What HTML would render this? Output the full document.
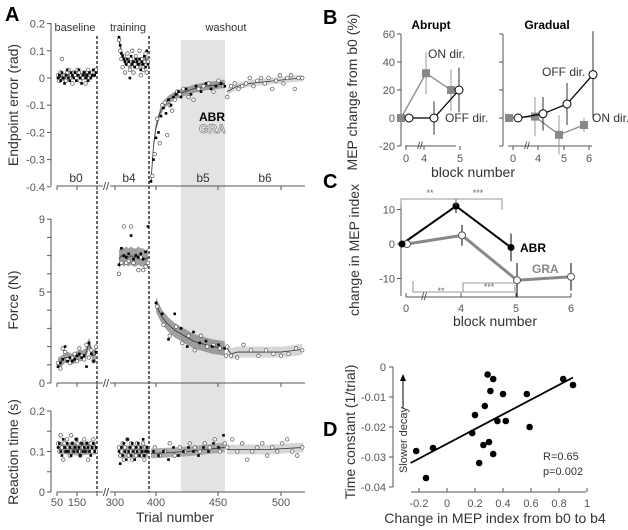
<!DOCTYPE html>
<html><head><meta charset="utf-8"><style>
html,body{margin:0;padding:0;background:#fff;}
svg{display:block;font-family:"Liberation Sans",sans-serif;}
.tk{font-size:11px;fill:#555;}
.lab{font-size:14px;fill:#333;}
</style></head><body>
<svg id="fig" width="628" height="530" viewBox="0 0 628 530">
<g id="gA"></g>
<g id="gB"></g>
<g id="gC"></g>
<g id="gD"></g>
</svg>
<script>
// ===== Panel A data =====
const baseErrABR=[0.0,0.01,-0.01,0.02,0.0,-0.02,0.01,0.03,0.0,-0.01,0.02,0.01,0.0,0.02,-0.01,0.01,0.03,0.0,-0.02,0.01,0.02,0.0,0.01,-0.01,0.02,0.0,0.01,0.03,0.01,0.02];
const baseErrGRA=[0.01,-0.01,0.02,0.07,0.0,0.01,-0.01,0.02,0.03,0.0,0.01,-0.02,0.02,0.01,0.0,0.03,0.02,-0.01,0.01,0.0,0.02,-0.02,0.01,0.03,0.0,0.01,0.02,0.01,0.02,0.03];
const trainErrABR=[0.15,0.12,0.09,0.08,0.07,0.06,0.05,0.07,0.06,0.0,0.08,0.05,0.06,0.04,0.07,0.06,0.05,0.07,0.03,0.06,0.05,0.08,0.04,0.1,0.05];
const trainErrGRA=[0.14,0.1,0.07,0.04,0.08,0.02,0.06,0.09,0.05,0.03,0.07,0.1,0.02,0.05,0.08,0.04,0.06,0.1,0.01,0.07,0.03,0.06,0.09,0.02,0.06];
const washTrialsABR=[396,398,400,402,404,406,408,410,412,414,416,418,420,424,428,432,436,440,444,448,452,455];
const washErrABR=[-0.38,-0.3,-0.22,-0.2,-0.14,-0.11,-0.13,-0.08,-0.1,-0.07,-0.06,-0.05,-0.07,-0.04,-0.06,-0.03,-0.05,-0.02,-0.04,-0.03,-0.02,-0.03];
const washTrialsGRA=[397,399,401,403,405,407,409,411,413,415,417,419,422,426,430,434,438,442,446,450,454,457,460,463,466,469,472,475,478,481,484,487,490,493,496,499,502,505,508,511,514,517];
const washErrGRA=[-0.36,-0.28,-0.15,-0.24,-0.1,-0.09,-0.21,-0.1,-0.12,-0.08,-0.05,-0.06,-0.04,-0.07,-0.08,-0.04,-0.03,-0.02,-0.05,-0.01,-0.03,-0.07,-0.03,-0.02,-0.04,-0.03,-0.02,0.0,-0.03,-0.01,0.0,-0.02,0.0,-0.04,-0.01,0.01,-0.02,0.0,0.01,-0.04,0.0,0.0];
const errMeanTrials=[396,398,400,403,406,410,415,420,430,440,450,455];
const errMean=[-0.38,-0.25,-0.18,-0.13,-0.1,-0.08,-0.065,-0.055,-0.04,-0.03,-0.025,-0.02];
const errMeanB6Trials=[457,465,475,485,495,505,518];
const errMeanB6=[-0.05,-0.03,-0.02,-0.015,-0.01,-0.005,0.0];

const baseForceABR=[0.9,1.1,1.3,2.0,1.2,1.4,1.2,1.3,1.5,1.6,1.4,1.5,0.9,2.2,1.6,1.2,1.7];
const baseForceGRA=[1.1,0.8,1.9,1.7,1.3,1.1,1.4,1.6,1.2,1.9,1.5,1.3,2.1,1.4,1.8,1.2,2.0];
const baseForceMean=[1.1,1.2,1.4,1.4,1.3,1.4,1.5,1.5,1.6,2.2,1.5,1.6];
const trainForceABR=[6.5,7.4,7.0,6.9,7.1,8.1,6.8,7.0,6.9,7.1,6.8,7.2,8.6];
const trainForceGRA=[6.0,6.6,8.6,6.6,6.7,8.6,6.6,7.0,6.2,6.9,6.2,6.4,6.6];
const trainForceMean=[6.8,7.0,6.9,7.0,6.9,7.0,6.9,6.9,7.0,6.9,6.9,6.8,6.9];
const washForceTrials=[400,405,410,415,420,425,430,435,440,445,450,455];
const washForceABR=[4.4,3.8,2.4,3.8,3.0,2.0,2.8,2.2,2.3,2.0,2.1,1.9];
const washForceGRA=[4.2,3.2,2.6,3.1,2.2,2.6,1.8,2.6,2.0,2.1,1.9,1.5];
const washForceMean=[4.3,3.6,3.2,2.9,2.7,2.5,2.3,2.2,2.1,2.0,1.95,1.9];
const b6ForceTrials=[457,460,465,470,476,482,488,494,500,506,512,517];
const b6ForceGRA=[2.0,1.5,1.4,2.1,1.8,1.5,1.8,1.6,1.5,1.6,1.9,1.8];
const b6ForceMean=[1.9,1.6,1.7,1.7,1.7,1.7,1.7,1.7,1.7,1.75,1.8,1.85];

const baseRTABR=[0.11,0.12,0.1,0.09,0.13,0.11,0.1,0.12,0.1,0.11,0.09,0.12,0.1,0.11,0.13,0.1,0.11,0.09,0.12,0.1,0.11,0.1,0.12,0.11,0.1,0.09,0.11,0.12,0.1,0.11];
const baseRTGRA=[0.12,0.1,0.14,0.11,0.08,0.12,0.1,0.13,0.11,0.09,0.14,0.12,0.1,0.11,0.13,0.12,0.1,0.09,0.12,0.11,0.13,0.1,0.12,0.08,0.11,0.12,0.1,0.13,0.11,0.1];
const trainRTABR=[0.1,0.07,0.11,0.09,0.12,0.1,0.08,0.13,0.1,0.11,0.09,0.12,0.1,0.08,0.11,0.1,0.12,0.09,0.11,0.1,0.13,0.09,0.1,0.11,0.1];
const trainRTGRA=[0.11,0.09,0.1,0.12,0.08,0.11,0.1,0.13,0.09,0.1,0.12,0.08,0.11,0.1,0.09,0.12,0.1,0.11,0.09,0.1,0.12,0.08,0.11,0.1,0.1];
const washRTTrials=[398,402,406,410,414,418,422,426,430,434,438,442,446,450,454];
const washRTABR=[0.1,0.09,0.1,0.08,0.11,0.09,0.1,0.11,0.1,0.09,0.11,0.1,0.12,0.11,0.14];
const washRTGRA=[0.11,0.09,0.1,0.12,0.09,0.11,0.1,0.12,0.11,0.1,0.12,0.11,0.13,0.1,0.12];
const b6RTTrials=[457,461,465,469,473,477,481,485,489,493,497,501,505,509,513,517];
const b6RTGRA=[0.11,0.13,0.1,0.12,0.08,0.1,0.11,0.12,0.09,0.11,0.1,0.12,0.13,0.1,0.09,0.11];

// ===== Panel B data =====
const bBlocks=["0","4","5","6"];
const abrON=[0,32,20];const abrONerr=[0,15,15];
const abrOFF=[0,0,20];const abrOFFerr=[0,12,16];
const graON=[0,1,-12,-5];const graONerr=[0,14,14,5];
const graOFF=[0,3,10,31];const graOFFerr=[0,12,15,31];
const bTicks=[-20,0,20,40,60];
// ===== Panel C data =====
const cABR=[0,11,-1];const cABRerr=[0,2,4];
const cGRA=[0,2.5,-10.5,-9.5];const cGRAerr=[0,3,5,4];
const cTicks=[-10,0,10];
// ===== Panel D data =====
const dX=[-0.22,-0.15,-0.1,0.18,0.2,0.23,0.26,0.27,0.29,0.3,0.31,0.33,0.33,0.36,0.4,0.42,0.57,0.59,0.83,0.9];
const dY=[-0.028,-0.037,-0.027,-0.022,-0.016,-0.032,-0.026,-0.013,-0.0025,-0.025,-0.008,-0.004,-0.029,-0.018,-0.009,-0.018,-0.009,-0.02,-0.004,-0.006];
const dXTicks=[-0.2,0,0.2,0.4,0.6,0.8,1];
const dYTicks=[0,-0.01,-0.02,-0.03,-0.04];
const dFit=[[-0.26,-0.032],[0.9,-0.0035]];

const NS="http://www.w3.org/2000/svg";
function mk(parent,tag,attrs,text){const e=document.createElementNS(NS,tag);for(const k in attrs)e.setAttribute(k,attrs[k]);if(text!==undefined)e.textContent=text;parent.appendChild(e);return e;}
const gA=document.getElementById('gA'),gB=document.getElementById('gB'),gC=document.getElementById('gC'),gD=document.getElementById('gD');

function xBase(i,n){return 58+i*(38/(n-1));}
function xTrain(i,n){return 119+i*(29/(n-1));}
function xW(t){return 156+(t-400)*1.25;}
const yE=v=>78-v*272;
const yF=v=>383-v*18.2;
const yR=v=>492-v*405;

let e;
e=mk(gA,'rect',{x:181,y:40,width:44,height:452,fill:'#e3e3e3'});

[97,149].forEach(x=>{e=mk(gA,'line',{x1:x,y1:36,x2:x,y2:492,stroke:'#000','stroke-width':1.2,'stroke-dasharray':'3,2'});
});

function band(g,xs,ys,sd,yf,fill,name){let top=xs.map((x,i)=>x+','+yf(ys[i]+sd)).join(' ');let bot=xs.map((x,i)=>x+','+yf(ys[i]-sd)).reverse().join(' ');
 const p=mk(g,'polygon',{points:top+' '+bot,fill:fill,opacity:0.8});
 const l=mk(g,'polyline',{points:xs.map((x,i)=>x+','+yf(ys[i])).join(' '),fill:'none',stroke:'#333','stroke-width':0.8});}
function sq(g,x,y,name){const r=mk(g,'rect',{x:x-1.3,y:y-1.3,width:2.6,height:2.6,fill:'#000'});}
function oc(g,x,y,name){const c=mk(g,'circle',{cx:x,cy:y,r:1.8,fill:'#fff',stroke:'#555','stroke-width':0.7});}

band(gA,baseErrABR.map((v,i)=>xBase(i,baseErrABR.length)),baseErrABR.map((v,i,a)=>(a[i]+(a[i+1]??v)+(a[i-1]??v))/3),0.012,yE,'#999','baseline-error');
baseErrGRA.forEach((v,i,a)=>oc(gA,xBase(i,a.length),yE(v),'baseline-error-gra-point'));
baseErrABR.forEach((v,i,a)=>sq(gA,xBase(i,a.length),yE(v),'baseline-error-abr-point'));
band(gA,trainErrABR.map((v,i,a)=>xTrain(i,a.length)),trainErrABR.map((v,i,a)=>(a[i]+(a[i+1]??v)+(a[i-1]??v))/3),0.015,yE,'#999','training-error');
trainErrGRA.forEach((v,i,a)=>oc(gA,xTrain(i,a.length),yE(v),'training-error-gra-point'));
trainErrABR.forEach((v,i,a)=>sq(gA,xTrain(i,a.length),yE(v),'training-error-abr-point'));
band(gA,errMeanTrials.map(xW),errMean,0.015,yE,'#888','washout-error');
band(gA,errMeanB6Trials.map(xW),errMeanB6,0.012,yE,'#ccc','b6-error');
washErrGRA.forEach((v,i)=>oc(gA,xW(washTrialsGRA[i]),yE(v),'washout-error-gra-point'));
washErrABR.forEach((v,i)=>sq(gA,xW(washTrialsABR[i]),yE(v),'washout-error-abr-point'));

band(gA,baseForceMean.map((v,i,a)=>xBase(i,a.length)),baseForceMean,0.3,yF,'#888','baseline-force');
baseForceGRA.forEach((v,i,a)=>oc(gA,xBase(i,a.length),yF(v),'baseline-force-gra-point'));
baseForceABR.forEach((v,i,a)=>sq(gA,xBase(i,a.length),yF(v),'baseline-force-abr-point'));
band(gA,trainForceMean.map((v,i,a)=>xTrain(i,a.length)),trainForceMean,0.5,yF,'#888','training-force');
trainForceGRA.forEach((v,i,a)=>oc(gA,xTrain(i,a.length),yF(v),'training-force-gra-point'));
trainForceABR.forEach((v,i,a)=>sq(gA,xTrain(i,a.length),yF(v),'training-force-abr-point'));
band(gA,washForceTrials.map(xW),washForceMean,0.4,yF,'#888','washout-force');
band(gA,b6ForceTrials.map(xW),b6ForceMean,0.3,yF,'#ccc','b6-force');
washForceGRA.forEach((v,i)=>oc(gA,xW(washForceTrials[i]+1),yF(v),'washout-force-gra-point'));
washForceABR.forEach((v,i)=>sq(gA,xW(washForceTrials[i]),yF(v),'washout-force-abr-point'));
b6ForceGRA.forEach((v,i)=>oc(gA,xW(b6ForceTrials[i]),yF(v),'b6-force-gra-point'));

band(gA,[58,77,96],[0.11,0.105,0.108],0.015,yR,'#999','baseline-rt');
baseRTGRA.forEach((v,i,a)=>oc(gA,xBase(i,a.length),yR(v),'baseline-rt-gra-point'));
baseRTABR.forEach((v,i,a)=>sq(gA,xBase(i,a.length),yR(v),'baseline-rt-abr-point'));
band(gA,[119,134,148],[0.1,0.1,0.1],0.015,yR,'#999','training-rt');
trainRTGRA.forEach((v,i,a)=>oc(gA,xTrain(i,a.length),yR(v),'training-rt-gra-point'));
trainRTABR.forEach((v,i,a)=>sq(gA,xTrain(i,a.length),yR(v),'training-rt-abr-point'));
band(gA,[xW(396),xW(425),xW(455)],[0.095,0.1,0.11],0.012,yR,'#999','washout-rt');
band(gA,[xW(457),xW(490),xW(518)],[0.105,0.105,0.11],0.012,yR,'#ccc','b6-rt');
washRTGRA.forEach((v,i)=>oc(gA,xW(washRTTrials[i]+1),yR(v),'washout-rt-gra-point'));
washRTABR.forEach((v,i)=>sq(gA,xW(washRTTrials[i]),yR(v),'washout-rt-abr-point'));
b6RTGRA.forEach((v,i)=>oc(gA,xW(b6RTTrials[i]),yR(v),'b6-rt-gra-point'));

function yAxisA(y0,y1,ticks,labels,yf,name){
 const g=mk(gA,'g',{});
 mk(g,'line',{x1:51,y1:y0,x2:51,y2:y1,stroke:'#555'});
 ticks.forEach(t=>mk(g,'line',{x1:47,y1:yf(t),x2:51,y2:yf(t),stroke:'#555'}));
 labels.forEach(t=>mk(g,'text',{x:45,y:yf(t)+4,'text-anchor':'end',class:'tk'},String(t)));
}
yAxisA(23,186,[0.2,0.1,0,-0.1,-0.2,-0.3,-0.4],[0.2,0.1,0,-0.1,-0.2,-0.3,-0.4],yE,'error-y-axis');
yAxisA(219,383,[0,1,2,3,4,5,6,7,8,9],[0,5,9],yF,'force-y-axis');
yAxisA(411,492,[0,0.05,0.1,0.15,0.2],[0,0.1,0.2],yR,'rt-y-axis');
function xAxisA(y,name){const g=mk(gA,'g',{});
 mk(g,'line',{x1:57,y1:y,x2:103,y2:y,stroke:'#555'});mk(g,'line',{x1:110,y1:y,x2:305,y2:y,stroke:'#555'});
 [57,77,97,115,156,218,281].forEach(x=>mk(g,'line',{x1:x,y1:y,x2:x,y2:y+4,stroke:'#555'}));
 mk(g,'text',{x:106,y:y+4,'text-anchor':'middle','font-size':11,fill:'#333'},'//');}
xAxisA(186,'error-x-axis');xAxisA(383,'force-x-axis');xAxisA(492,'trial-x-axis');
[['50',57],['150',77],['300',115],['400',156],['450',218],['500',281]].forEach(([t,x])=>{e=mk(gA,'text',{x:x,y:506,'text-anchor':'middle',class:'tk'},t);});
</script>
<script>
(function(){
const gA=document.getElementById('gA');
const T=(x,y,t,attrs,name)=>{const e=document.createElementNS("http://www.w3.org/2000/svg",'text');e.setAttribute('x',x);e.setAttribute('y',y);for(const k in attrs)e.setAttribute(k,attrs[k]);e.textContent=t;


gA.appendChild(e);};
T(5,21,'A',{'font-size':20,'font-weight':'bold'},'panel-a-label');
T(75,31,'baseline',{'font-size':11,fill:'#333','text-anchor':'middle'},'baseline-label');
T(128,31,'training',{'font-size':11,fill:'#333','text-anchor':'middle'},'training-label');
T(226,31,'washout',{'font-size':11,fill:'#333','text-anchor':'middle'},'washout-label');
T(76,182,'b0',{'font-size':12,fill:'#333','text-anchor':'middle'},'b0-label');
T(129,182,'b4',{'font-size':12,fill:'#333','text-anchor':'middle'},'b4-label');
T(203,182,'b5',{'font-size':12,fill:'#333','text-anchor':'middle'},'b5-label');
T(265,182,'b6',{'font-size':12,fill:'#333','text-anchor':'middle'},'b6-label');
T(199,121,'ABR',{'font-size':12,'font-weight':'bold'},'abr-legend');
T(199,133,'GRA',{'font-size':12,'font-weight':'bold',fill:'#fff',stroke:'#888','stroke-width':0.8},'gra-legend');
T(0,0,'Endpoint error (rad)',{class:'lab','text-anchor':'middle',transform:'translate(18,105) rotate(-90)'},'error-y-title');
T(0,0,'Force (N)',{class:'lab','text-anchor':'middle',transform:'translate(18,300) rotate(-90)'},'force-y-title');
T(0,0,'Reaction time (s)',{class:'lab','text-anchor':'middle',transform:'translate(18,452) rotate(-90)'},'rt-y-title');
T(175,522,'Trial number',{class:'lab','text-anchor':'middle'},'trial-x-title');
})();
</script>
<script>
(function(){
const NS="http://www.w3.org/2000/svg";
function mk(p,tag,a,t){const e=document.createElementNS(NS,tag);for(const k in a)e.setAttribute(k,a[k]);if(t!==undefined)e.textContent=t;p.appendChild(e);return e;}
const gB=document.getElementById('gB'),gC=document.getElementById('gC'),gD=document.getElementById('gD');
const yB=v=>118-v*1.4;
function tx(g,x,y,t,a,name){const e=mk(g,'text',Object.assign({x:x,y:y},a),t);return e;}
[[401,[406,424,460],['0','4','5'],405,456],[503,[513,538,564,589],['0','4','5','6'],508,592]].forEach(([ax,tks,lbs,x0,x1],k)=>{
 const g=mk(gB,'g',{});
 mk(g,'line',{x1:ax,y1:34,x2:ax,y2:146,stroke:'#555'});
 bTicks.forEach(t=>{mk(g,'line',{x1:ax-4,y1:yB(t),x2:ax,y2:yB(t),stroke:'#555'});if(!k)mk(g,'text',{x:ax-6,y:yB(t)+4,'text-anchor':'end',class:'tk'},t);});
 mk(g,'line',{x1:x0,y1:146,x2:x1,y2:146,stroke:'#555'});
 tks.forEach((x,i)=>{mk(g,'line',{x1:x,y1:146,x2:x,y2:150,stroke:'#555'});mk(g,'text',{x:x,y:162,'text-anchor':'middle',class:'tk'},lbs[i]);});
 mk(g,'text',{x:tks[0]+14,y:149,'font-size':10,fill:'#333','text-anchor':'middle'},'//');
});
const abrSqX=[401,426,451],abrCiX=[409,434,459],graSqX=[509,535,559,584],graCiX=[518,543,567,593];
function series(g,xs,vals,errs,isSq,col,name){
 mk(g,'polyline',{points:xs.map((x,i)=>x+','+yB(vals[i])).join(' '),fill:'none',stroke:col,'stroke-width':1.3});
 vals.forEach((v,i)=>{if(errs[i])mk(g,'line',{x1:xs[i],y1:yB(v+errs[i]),x2:xs[i],y2:yB(v-errs[i]),stroke:isSq?'#999':'#333','stroke-width':1});
  let m=isSq?mk(g,'rect',{x:xs[i]-4,y:yB(v)-4,width:8,height:8,fill:'#888'}):mk(g,'circle',{cx:xs[i],cy:yB(v),r:4,fill:'#fff',stroke:'#000'});
  });
}
series(gB,abrSqX,abrON,abrONerr,true,'#888','abrupt-on');
series(gB,abrCiX,abrOFF,abrOFFerr,false,'#000','abrupt-off');
series(gB,graSqX,graON,graONerr,true,'#888','gradual-on');
series(gB,graCiX,graOFF,graOFFerr,false,'#000','gradual-off');
tx(gB,323,24,'B',{'font-size':20,'font-weight':'bold'},'panel-b-label');
tx(gB,431,29,'Abrupt',{'font-size':12,'font-weight':'bold','text-anchor':'middle'},'abrupt-title');
tx(gB,547,29,'Gradual',{'font-size':12,'font-weight':'bold','text-anchor':'middle'},'gradual-title');
tx(gB,428,58,'ON dir.',{'font-size':12,fill:'#333'},'abrupt-on-label');
tx(gB,445,122,'OFF dir.',{'font-size':12,fill:'#333'},'abrupt-off-label');
tx(gB,542,76,'OFF dir.',{'font-size':12,fill:'#333'},'gradual-off-label');
tx(gB,592,122,'ON dir.',{'font-size':12,fill:'#333'},'gradual-on-label');
tx(gB,0,0,'MEP change from b0 (%)',{class:'lab','text-anchor':'middle',transform:'translate(357,92) rotate(-90)'},'b-y-title');
tx(gB,473,177,'block number',{class:'lab','text-anchor':'middle'},'b-x-title');

const yC=v=>244-v*3.45;
const cXabr=[402,456,511],cXgra=[407,462,517,571];
const ga=mk(gC,'g',{});
mk(ga,'line',{x1:401,y1:205,x2:401,y2:296,stroke:'#555'});
cTicks.forEach(t=>{mk(ga,'line',{x1:397,y1:yC(t),x2:401,y2:yC(t),stroke:'#555'});mk(ga,'text',{x:395,y:yC(t)+4,'text-anchor':'end',class:'tk'},t);});
mk(ga,'line',{x1:406,y1:297,x2:571,y2:297,stroke:'#555'});
[[406,'0'],[461,'4'],[516,'5'],[571,'6']].forEach(([x,l])=>{mk(ga,'line',{x1:x,y1:293,x2:x,y2:297,stroke:'#555'});mk(ga,'text',{x:x,y:312,'text-anchor':'middle',class:'tk'},l);});
mk(ga,'text',{x:424,y:300,'font-size':10,fill:'#333','text-anchor':'middle'},'//');
mk(gC,'polyline',{points:cXgra.map((x,i)=>x+','+yC(cGRA[i])).join(' '),fill:'none',stroke:'#888','stroke-width':3});
mk(gC,'polyline',{points:cXabr.map((x,i)=>x+','+yC(cABR[i])).join(' '),fill:'none',stroke:'#000','stroke-width':2});
cGRA.forEach((v,i)=>{if(cGRAerr[i])mk(gC,'line',{x1:cXgra[i],y1:yC(v+cGRAerr[i]),x2:cXgra[i],y2:yC(v-cGRAerr[i]),stroke:'#000'});
 const c=mk(gC,'circle',{cx:cXgra[i],cy:yC(v),r:3.5,fill:'#fff',stroke:'#555'});});
cABR.forEach((v,i)=>{if(cABRerr[i])mk(gC,'line',{x1:cXabr[i],y1:yC(v+cABRerr[i]),x2:cXabr[i],y2:yC(v-cABRerr[i]),stroke:'#000'});
 const c=mk(gC,'circle',{cx:cXabr[i],cy:yC(v),r:3.5,fill:'#000'});});
mk(gC,'polyline',{points:'401,210 401,199 502,199 502,210',fill:'none',stroke:'#777','stroke-width':0.8});
mk(gC,'line',{x1:456,y1:199,x2:456,y2:205,stroke:'#777','stroke-width':0.8});
mk(gC,'polyline',{points:'413,281 413,292 515,292 515,285',fill:'none',stroke:'#777','stroke-width':0.8});
mk(gC,'polyline',{points:'463,292 463,283 515,283',fill:'none',stroke:'#777','stroke-width':0.8});
tx(gC,430,196,'**',{'font-size':9,fill:'#666','text-anchor':'middle'},'sig-abr-0-4');
tx(gC,478,196,'***',{'font-size':9,fill:'#666','text-anchor':'middle'},'sig-abr-4-5');
tx(gC,441,294,'**',{'font-size':9,fill:'#666','text-anchor':'middle'},'sig-gra-0-5');
tx(gC,489,290,'***',{'font-size':9,fill:'#666','text-anchor':'middle'},'sig-gra-4-5');
tx(gC,520,252,'ABR',{'font-size':12,'font-weight':'bold'},'c-abr-label');
tx(gC,532,273,'GRA',{'font-size':12,'font-weight':'bold',fill:'#888'},'c-gra-label');
tx(gC,323,188,'C',{'font-size':20,'font-weight':'bold'},'panel-c-label');
tx(gC,0,0,'change in MEP index',{class:'lab','text-anchor':'middle',transform:'translate(359,250) rotate(-90)'},'c-y-title');
tx(gC,495,326,'block number',{class:'lab','text-anchor':'middle'},'c-x-title');

const xD=v=>447+v*140, yD=v=>367-v*3000;
const gd=mk(gD,'g',{});
mk(gd,'line',{x1:393,y1:367,x2:393,y2:487,stroke:'#555'});
dYTicks.forEach(t=>{mk(gd,'line',{x1:389,y1:yD(t),x2:393,y2:yD(t),stroke:'#555'});mk(gd,'text',{x:386,y:yD(t)+4,'text-anchor':'end',class:'tk'},t);});
mk(gd,'line',{x1:411,y1:492,x2:586,y2:492,stroke:'#555'});
dXTicks.forEach(t=>{mk(gd,'line',{x1:xD(t),y1:488,x2:xD(t),y2:492,stroke:'#555'});mk(gd,'text',{x:xD(t),y:507,'text-anchor':'middle',class:'tk'},t);});
const fl=mk(gD,'line',{x1:xD(dFit[0][0]),y1:yD(dFit[0][1]),x2:xD(dFit[1][0]),y2:yD(dFit[1][1]),stroke:'#000','stroke-width':1.8});

dX.forEach((v,i)=>{const c=mk(gD,'circle',{cx:xD(v),cy:yD(dY[i]),r:3.3,fill:'#000'});});
tx(gD,543,460,'R=0.65',{'font-size':11,fill:'#333'},'r-value');
tx(gD,543,475,'p=0.002',{'font-size':11,fill:'#333'},'p-value');
tx(gD,323,436,'D',{'font-size':20,'font-weight':'bold'},'panel-d-label');
tx(gD,0,0,'Time constant (1/trial)',{class:'lab','text-anchor':'middle',transform:'translate(355,432) rotate(-90)'},'d-y-title');
tx(gD,0,0,'Slower decay',{'font-size':11,fill:'#333','text-anchor':'middle',transform:'translate(407,440) rotate(-90)'},'slower-decay-label');
const ar=mk(gD,'line',{x1:403,y1:408,x2:403,y2:378,stroke:'#000'});
mk(gD,'polygon',{points:'403,374 400,381 406,381',fill:'#000'});
tx(gD,495,523,'Change in MEP index from b0 to b4',{class:'lab','text-anchor':'middle'},'d-x-title');
})();
</script>
</body></html>
